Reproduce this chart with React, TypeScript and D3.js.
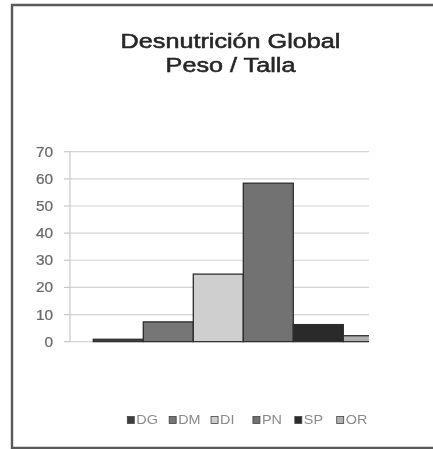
import React from "react";
import * as d3 from "d3";

const series = ["DG", "DM", "DI", "PN", "SP", "OR"];
const values = [0.9, 7.3, 24.9, 58.4, 6.3, 2.2];
const fills = ["#3c3c3c", "#767676", "#cfcfcf", "#727272", "#2a2a2a", "#b0b0b0"];
const yTicks = [0, 10, 20, 30, 40, 50, 60, 70];
const titleLines = ["Desnutrición Global", "Peso / Talla"];

const W = 433;
const H = 449;
const plot = { left: 70, right: 369, top: 151.7, bottom: 341.7 };
const SX = 1.2; // horizontal stretch of the text

export default function App() {
  const y = d3.scaleLinear().domain([0, 70]).range([plot.bottom, plot.top]);
  const x = d3
    .scaleBand<string>()
    .domain(series)
    .range([93.3, 93.3 + 50 * series.length])
    .paddingInner(0)
    .paddingOuter(0);
  const legendX = d3.scalePoint<string>().domain(series).range([127.3, 336.7]);
  const font = "'Liberation Sans', Arial, sans-serif";

  return (
    <svg
      width={W}
      height={H}
      style={{ position: "absolute", left: 0, top: 0, background: "#fff" }}
      fontFamily={font}
    >
      <defs>
        <clipPath id="plotclip">
          <rect x={plot.left} y={plot.top - 5} width={plot.right - plot.left} height={plot.bottom - plot.top + 6} />
        </clipPath>
        <filter id="soft" x="-5%" y="-5%" width="110%" height="110%">
          <feGaussianBlur stdDeviation="0.35" />
        </filter>
      </defs>
      <g filter="url(#soft)">
        {/* frame */}
        <path d={`M${W + 2},5 H12 V448 H${W + 2}`} fill="none" stroke="#5a5a5a" strokeWidth={2.4} />

        {/* title */}
        {titleLines.map((t, i) => (
          <g key={t} transform={`translate(230.5,${48 + i * 24}) scale(${SX},1)`}>
            <text textAnchor="middle" fontSize={21} fill="#262626" stroke="#262626" strokeWidth={0.55}>
              {t}
            </text>
          </g>
        ))}

        {/* gridlines */}
        {yTicks.map((t) => (
          <g key={t}>
            <line x1={plot.left} x2={plot.right} y1={y(t)} y2={y(t)} stroke="#d4d4d4" strokeWidth={1.2} />
            <line x1={64} x2={plot.left} y1={y(t)} y2={y(t)} stroke="#c8c8c8" strokeWidth={1.2} />
            <g transform={`translate(53,${y(t) + 5}) scale(1.1,1)`}>
              <text textAnchor="end" fontSize={14} fill="#6a6a6a" stroke="#6a6a6a" strokeWidth={0.25}>
                {t}
              </text>
            </g>
          </g>
        ))}
        <line x1={plot.left} x2={plot.left} y1={plot.top} y2={plot.bottom} stroke="#c8c8c8" strokeWidth={1.2} />

        {/* bars */}
        <g clipPath="url(#plotclip)">
          {series.map((s, i) => (
            <rect
              key={s}
              x={x(s)!}
              y={y(values[i])}
              width={x.bandwidth()}
              height={plot.bottom - y(values[i])}
              fill={fills[i]}
              stroke="#2e2e2e"
              strokeWidth={1.3}
            />
          ))}
        </g>

        {/* legend */}
        {series.map((s, i) => (
          <g key={s} transform={`translate(${legendX(s)!},420)`}>
            <rect x={0} y={-3.5} width={7} height={7} fill={fills[i]} stroke="#444" strokeWidth={0.8} />
            <g transform={`translate(9,4.3) scale(${SX},1)`}>
              <text fontSize={12} fill="#8a8a8a">
                {s}
              </text>
            </g>
          </g>
        ))}
      </g>
    </svg>
  );
}
